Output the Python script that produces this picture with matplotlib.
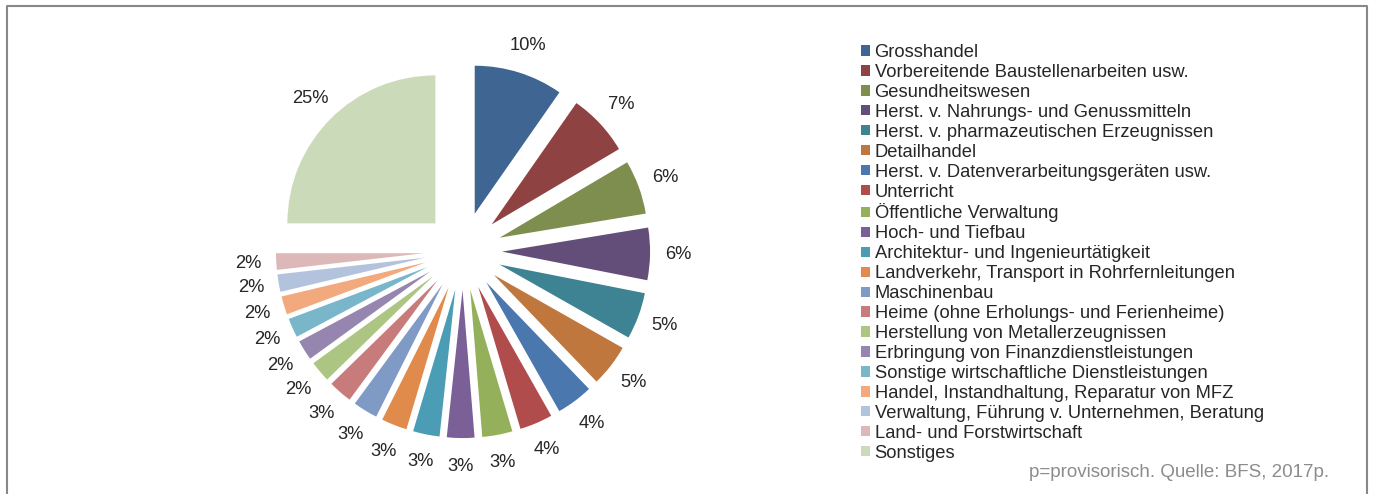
import matplotlib.pyplot as plt
from matplotlib.lines import Line2D

plt.rcParams['font.family'] = ['Liberation Sans', 'DejaVu Sans']

# Beschäftigungsanteile nach Branche (in %), Reihenfolge wie in der Legende
branchen = [
    "Grosshandel",
    "Vorbereitende Baustellenarbeiten usw.",
    "Gesundheitswesen",
    "Herst. v. Nahrungs- und Genussmitteln",
    "Herst. v. pharmazeutischen Erzeugnissen",
    "Detailhandel",
    "Herst. v. Datenverarbeitungsgeräten usw.",
    "Unterricht",
    "Öffentliche Verwaltung",
    "Hoch- und Tiefbau",
    "Architektur- und Ingenieurtätigkeit",
    "Landverkehr, Transport in Rohrfernleitungen",
    "Maschinenbau",
    "Heime (ohne Erholungs- und Ferienheime)",
    "Herstellung von Metallerzeugnissen",
    "Erbringung von Finanzdienstleistungen",
    "Sonstige wirtschaftliche Dienstleistungen",
    "Handel, Instandhaltung, Reparatur von MFZ",
    "Verwaltung, Führung v. Unternehmen, Beratung",
    "Land- und Forstwirtschaft",
    "Sonstiges",
]
anteile = [9.7, 6.8, 5.9, 5.7, 5.1, 4.6, 4.0, 3.6, 3.3, 3.0,
           2.9, 2.8, 2.7, 2.6, 2.3, 2.2, 2.1, 2.0, 1.9, 1.8, 25.0]
farben = [
    "#3f6592", "#8e4241", "#7e8e4f", "#634e79", "#3d8393", "#c0773d",
    "#4a77ad", "#b04c4b", "#95b05a", "#7b6097", "#4a9db4", "#e08b4b",
    "#7e9ac5", "#c77c7b", "#adc582", "#9686af", "#79b6c9", "#f1a97d",
    "#b3c3de", "#ddb8b8", "#cbdab9",
]
quelle = "p=provisorisch. Quelle: BFS, 2017p."

W, H = 1373, 494
fig = plt.figure(figsize=(W / 100, H / 100), dpi=100)

# Kreismittelpunkt und Radius in Pixeln
cx, cy, r = 463, 251, 148
ax = fig.add_axes([0, 0, 1, 1])
wedges, texts, autotexts = ax.pie(
    anteile, colors=farben, startangle=90, counterclock=False,
    explode=[0.264] * len(anteile), autopct='%1.0f%%', pctdistance=1.19,
    radius=1, textprops=dict(fontsize=13.2, color='#262626'))
ax.set_xlim(-cx / r, (W - cx) / r)
ax.set_ylim(-(H - cy) / r, cy / r)
ax.set_aspect('equal')
ax.axis('off')

fig.legend(wedges, branchen, loc='upper left',
           bbox_to_anchor=(861 / W, 1 - 44 / H), frameon=False,
           fontsize=13.2, handlelength=0.49, handleheight=0.49,
           handletextpad=0.25, labelspacing=0.16, borderpad=0,
           borderaxespad=0, labelcolor='#262626')

fig.text(1329 / W, 1 - 477 / H, quelle, ha='right', va='baseline',
         fontsize=13.5, color='#8c8c8c')

# Rahmen (unten abgeschnitten)
fig.add_artist(Line2D([6.5 / W, 6.5 / W, 1367 / W, 1367 / W],
                      [0, 1 - 6.5 / H, 1 - 6.5 / H, 0],
                      transform=fig.transFigure, color='#888888', lw=1.5))

fig.savefig('out.png', dpi=100)
